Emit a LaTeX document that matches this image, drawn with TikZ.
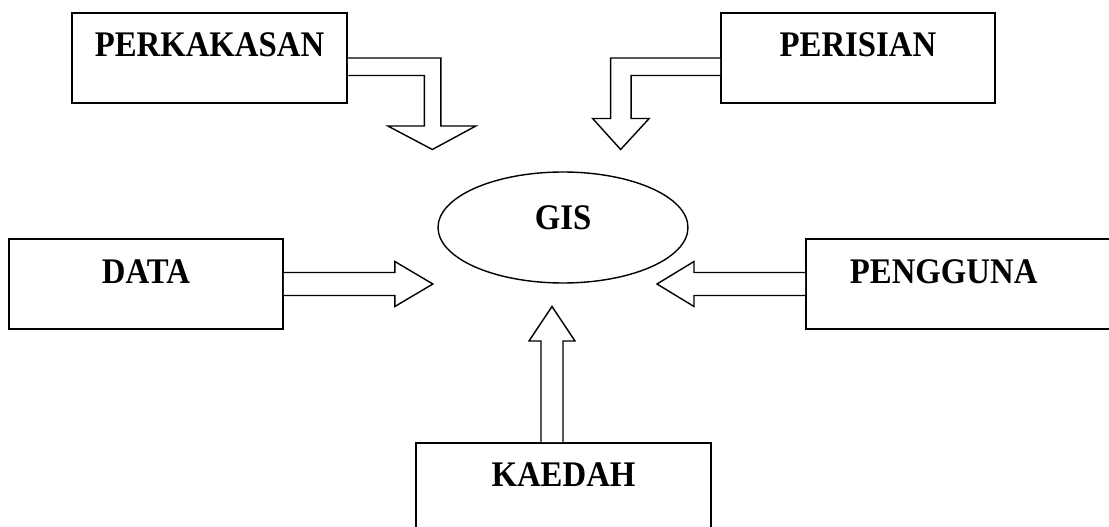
\documentclass[tikz,border=0pt]{standalone}
\usepackage{fontspec}
\setmainfont{Liberation Serif}[FakeStretch=0.91]
\usetikzlibrary{shapes.geometric}

\begin{document}
\begin{tikzpicture}[x=0.02cm,y=-0.02cm,
  box/.style={draw,line width=1pt,rectangle,inner sep=0pt,minimum width=5.5cm,minimum height=1.8cm,
    text height=0.88cm,text depth=0.92cm,font=\fontsize{20.5}{24}\selectfont\bfseries},
  barrow/.style={draw,line width=0.8pt,fill=white,line join=miter}]
\clip (0,0) rectangle (1109,527);
\node[box] (hw) at (209.5,58) {PERKAKASAN};
\node[box,minimum width=5.48cm] (sw) at (858,58) {PERISIAN};
\node[ellipse,draw,line width=0.8pt,inner sep=0pt,minimum width=5cm,minimum height=2.22cm,
  text height=0.3cm,text depth=0.24cm,font=\fontsize{20.5}{24}\selectfont\bfseries] (gis) at (563,227.5) {GIS};
\node[box,minimum width=5.48cm] (data) at (146,284) {DATA};
\node[box,anchor=west,minimum width=6.4cm,text width=4.64cm,align=left] (user) at (805,284) {PENGGUNA};
\node[box,anchor=north,minimum width=5.9cm] (method) at (563.5,442) {KAEDAH};
% block arrows into GIS
\draw[barrow] (hw.east) -- ++(93,0) -- ++(0,68) -- ++(35,0) -- ++(-43.5,23.5) -- ++(-44.5,-23.5)
  -- ++(36.5,0) -- ++(0,-50.5) -- ++(-76,0);
\draw[barrow] (sw.west) -- ++(-109.5,0) -- ++(0,60.5) -- ++(-18,0) -- ++(28,31) -- ++(28.5,-31)
  -- ++(-18,0) -- ++(0,-43) -- ++(89,0);
\draw[barrow] ([shift={(0,-11.5)}]data.east) -- ++(111,0) -- ++(0,-11) -- ++(38,22.5) -- ++(-38,22.5)
  -- ++(0,-11) -- ++(-111,0);
\draw[barrow] ([shift={(0,-11.5)}]user.west) -- ++(-111,0) -- ++(0,-11) -- ++(-37,22.5) -- ++(37,22.5)
  -- ++(0,-11) -- ++(111,0);
\draw[barrow] ([shift={(-22.5,0)}]method.north) -- ++(0,-101) -- ++(-12,0) -- ++(23,-34.5) -- ++(23,34.5)
  -- ++(-12,0) -- ++(0,101);
\end{tikzpicture}
\end{document}
